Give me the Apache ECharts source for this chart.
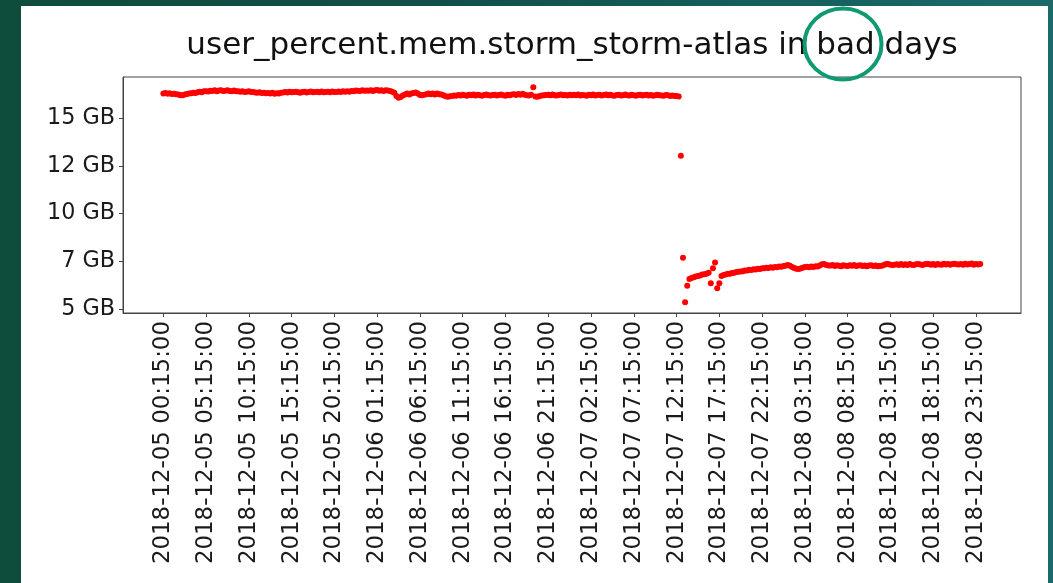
<!DOCTYPE html>
<html><head><meta charset="utf-8">
<script src="https://cdn.jsdelivr.net/npm/echarts@6/dist/echarts.min.js"></script>
<style>
html,body{margin:0;padding:0;width:1053px;height:583px;overflow:hidden;
background:linear-gradient(90deg,#0e4d3b 0%,#114f48 40%,#15605f 75%,#1b6a6a 100%);}
#panel{position:absolute;left:21px;top:6px;width:1027px;height:577px;background:#fff;}
#c{position:absolute;left:0;top:0;width:1053px;height:583px;}
</style></head>
<body><div id="panel"></div><div id="c"></div>
<script>
const chartTitle = 'user_percent.mem.storm_storm-atlas in bad days';
const startTime = '2018-12-05 00:15:00';
const stepMinutes = 15;

// memory in GB, one value every 15 minutes
const day1 = [
16.29,16.31,16.27,16.30,16.26,16.27,16.25,16.24,16.20,16.19,16.23,16.26,
16.29,16.30,16.32,16.31,16.35,16.38,16.35,16.40,16.41,16.39,16.43,16.42,
16.45,16.41,16.44,16.46,16.42,16.43,16.45,16.42,16.41,16.44,16.41,16.40,
16.38,16.41,16.37,16.38,16.40,16.37,16.36,16.34,16.33,16.35,16.31,16.33,
16.30,16.31,16.28,16.32,16.27,16.30,16.29,16.33,16.34,16.37,16.34,16.38,
16.35,16.36,16.38,16.35,16.33,16.37,16.38,16.34,16.37,16.39,16.35,16.36,
16.38,16.35,16.39,16.35,16.36,16.38,16.35,16.39,16.36,16.37,16.39,16.36,
16.40,16.38,16.41,16.38,16.42,16.41,16.44,16.43,16.42,16.46,16.43,16.44];
const day2 = [
16.43,16.46,16.42,16.45,16.47,16.43,16.46,16.42,16.45,16.44,16.42,16.38,
16.32,16.16,16.06,16.10,16.18,16.24,16.28,16.24,16.29,16.31,16.34,16.29,
16.21,16.19,16.22,16.25,16.28,16.25,16.29,16.24,16.28,16.25,16.23,16.19,
16.14,16.11,16.14,16.16,16.18,16.17,16.21,16.18,16.22,16.19,16.17,16.22,
16.19,16.23,16.18,16.22,16.20,16.17,16.21,16.23,16.20,16.18,16.21,16.22,
16.18,16.21,16.23,16.19,16.17,16.22,16.20,16.23,16.25,16.21,16.26,16.22,
16.27,16.22,16.20,16.18,16.22,16.61,16.13,16.11,16.15,16.18,16.19,16.21,
16.22,16.19,16.23,16.20,16.18,16.21,16.23,16.20,16.21,16.18,16.22,16.19];
const day3 = [
16.22,16.19,16.23,16.18,16.21,16.20,16.17,16.22,16.19,16.23,16.18,16.21,
16.22,16.18,16.21,16.23,16.19,16.22,16.18,16.17,16.21,16.22,16.18,16.20,
16.23,16.19,16.18,16.22,16.20,16.17,16.21,16.22,16.18,16.21,16.22,16.18,
16.21,16.17,16.19,16.22,16.20,16.18,16.17,16.21,16.19,16.16,16.18,16.15,
16.16,16.13,13.03,7.69,5.35,6.22,6.57,6.62,6.66,6.70,6.73,6.76,
6.80,6.82,6.85,6.90,6.35,7.13,7.44,6.08,6.35,6.73,6.78,6.80,
6.84,6.85,6.89,6.90,6.94,6.95,6.97,6.98,7.01,7.02,7.05,7.04,
7.08,7.07,7.11,7.10,7.14,7.13,7.16,7.15,7.19,7.16,7.20,7.19];
const day4 = [
7.22,7.21,7.25,7.27,7.31,7.26,7.20,7.15,7.11,7.09,7.12,7.16,
7.20,7.21,7.19,7.23,7.20,7.24,7.22,7.28,7.34,7.36,7.31,7.28,
7.28,7.30,7.25,7.29,7.26,7.24,7.29,7.27,7.25,7.29,7.26,7.30,
7.25,7.28,7.29,7.25,7.28,7.24,7.28,7.29,7.25,7.28,7.24,7.25,
7.27,7.30,7.35,7.36,7.32,7.30,7.32,7.34,7.31,7.35,7.30,7.34,
7.31,7.35,7.32,7.30,7.34,7.36,7.33,7.31,7.34,7.35,7.36,7.32,
7.35,7.31,7.36,7.33,7.32,7.37,7.33,7.36,7.32,7.35,7.37,7.34,
7.33,7.36,7.32,7.37,7.33,7.36,7.38,7.32,7.36,7.33,7.35];

const yTickValues = [5, 7.5, 10, 12.5, 15];
const yTickLabels = ['5 GB', '7 GB', '10 GB', '12 GB', '15 GB'];
const yRange = [4.79, 17.15];
const xTickLabels = [
'2018-12-05 00:15:00','2018-12-05 05:15:00','2018-12-05 10:15:00','2018-12-05 15:15:00',
'2018-12-05 20:15:00','2018-12-06 01:15:00','2018-12-06 06:15:00','2018-12-06 11:15:00',
'2018-12-06 16:15:00','2018-12-06 21:15:00','2018-12-07 02:15:00','2018-12-07 07:15:00',
'2018-12-07 12:15:00','2018-12-07 17:15:00','2018-12-07 22:15:00','2018-12-08 03:15:00',
'2018-12-08 08:15:00','2018-12-08 13:15:00','2018-12-08 18:15:00','2018-12-08 23:15:00'];
const xRange = ['2018-12-04 19:32:00', '2018-12-09 04:31:00'];

function parseTs(s) {
  const [d, t] = s.split(' ');
  const [Y, M, D] = d.split('-').map(Number);
  const [h, m, sec] = t.split(':').map(Number);
  return Date.UTC(Y, M - 1, D, h, m, sec);
}
const values = day1.concat(day2, day3, day4);
const t0 = parseTs(startTime);
const points = values.map((v, i) => [t0 + i * stepMinutes * 60000, v]);
const xTickValues = xTickLabels.map(parseTs);

const FONT = 'DejaVu Sans';
const chart = echarts.init(document.getElementById('c'), null, {renderer: 'canvas'});
chart.setOption({
  animation: false,
  backgroundColor: 'transparent',
  grid: {left: 123, right: 32, top: 77, bottom: 270, show: true, borderColor: '#444', borderWidth: 1, containLabel: false},
  xAxis: {
    type: 'value', min: parseTs(xRange[0]), max: parseTs(xRange[1]),
    splitLine: {show: false},
    axisLine: {show: true, lineStyle: {color: '#444', width: 1}},
    axisTick: {show: true, length: 4, lineStyle: {color: '#444'}, customValues: xTickValues},
    axisLabel: {
      customValues: xTickValues, rotate: 90, margin: 8,
      fontFamily: FONT, fontSize: 22.9, color: '#1a1a1a',
      formatter: v => { const k = xTickValues.indexOf(v); return k >= 0 ? xTickLabels[k] : ''; }
    }
  },
  yAxis: {
    type: 'value', min: yRange[0], max: yRange[1],
    splitLine: {show: false},
    axisLine: {show: true, lineStyle: {color: '#444', width: 1}},
    axisTick: {show: true, length: 4, lineStyle: {color: '#444'}, customValues: yTickValues},
    axisLabel: {
      customValues: yTickValues, margin: 8,
      fontFamily: FONT, fontSize: 22.3, color: '#1a1a1a',
      formatter: v => { const k = yTickValues.indexOf(v); return k >= 0 ? yTickLabels[k] : ''; }
    }
  },
  series: [{
    type: 'scatter', data: points, symbol: 'circle', symbolSize: 6,
    itemStyle: {color: '#ff0000', opacity: 1}, silent: true
  }],
  graphic: [
    {type: 'text', x: 572, y: 46, style: {text: chartTitle, fill: '#111', font: '31px "DejaVu Sans"', textAlign: 'center', textVerticalAlign: 'middle'}},
    {type: 'ellipse', shape: {cx: 843, cy: 44, rx: 38.5, ry: 35.5}, style: {fill: 'none', stroke: '#0f9a74', lineWidth: 4}}
  ]
});
</script>
</body></html>
